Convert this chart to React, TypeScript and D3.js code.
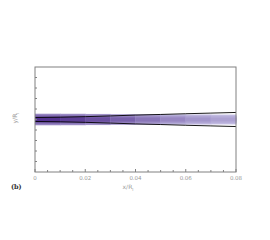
import * as d3 from 'd3';
import React from 'react';

// beam envelope (half width in y/R_l) sampled along x/R_l
const xSamples = [0, 0.01, 0.02, 0.03, 0.04, 0.05, 0.06, 0.07, 0.08];
const envelope = [0.19, 0.22, 0.27, 0.34, 0.42, 0.48, 0.55, 0.61, 0.67];
// density of the beam core (1 = dark, 0 = faint) and its spread
const density = [1.0, 0.95, 0.85, 0.75, 0.62, 0.5, 0.4, 0.32, 0.25];
const spread = [0.55, 0.55, 0.54, 0.52, 0.5, 0.5, 0.48, 0.47, 0.46];
const xTicks = [0, 0.02, 0.04, 0.06, 0.08];

const params = {
  left: 35,
  right: 236,
  top: 67,
  bottom: 172,
};

export default function App() {
  const x = d3.scaleLinear().domain([0, 0.08]).range([params.left, params.right]);
  const y = d3.scaleLinear().domain([-5, 5]).range([params.bottom, params.top]);
  const color = d3.interpolateRgb('#d2d0ee', '#4a2688');

  const minor = d3.range(0, 0.0801, 0.005);
  const yMinor = d3.range(-4, 5, 1);

  const segments = xSamples.slice(0, -1).map((xv, i) => {
    const x0 = x(xv);
    const x1 = x(xSamples[i + 1]);
    const d = (density[i] + density[i + 1]) / 2;
    const s = (spread[i] + spread[i + 1]) / 2;
    const layers = [
      { w: s, c: color(d * 0.45) },
      { w: s * 0.7, c: color(d * 0.7) },
      { w: s * 0.4, c: color(d * 0.95) },
    ];
    return (
      <g key={i}>
        {layers.map((l, j) => (
          <rect key={j} x={x0} width={x1 - x0 + 0.5} y={y(l.w)} height={y(-l.w) - y(l.w)} fill={l.c} />
        ))}
      </g>
    );
  });

  const upper = d3.line<number>().x((_, i) => x(xSamples[i])).y((v) => y(v)).curve(d3.curveMonotoneX);
  const lower = d3.line<number>().x((_, i) => x(xSamples[i])).y((v) => y(-v)).curve(d3.curveMonotoneX);

  const font = { fontFamily: 'DejaVu Sans', fill: '#999' };

  return (
    <svg width={270} height={240} style={{ position: 'absolute', left: 0, top: 0 }}>
      <rect width={270} height={240} fill="#fff" />
      {segments}
      <path d={upper(envelope) || ''} fill="none" stroke="#000" strokeWidth={0.9} />
      <path d={lower(envelope) || ''} fill="none" stroke="#000" strokeWidth={0.9} />
      <rect x={params.left} y={params.top} width={params.right - params.left} height={params.bottom - params.top}
        fill="none" stroke="#808080" strokeWidth={1} />
      {minor.map((t) => (
        <line key={t} x1={x(t)} x2={x(t)} y1={params.bottom} y2={params.bottom - (Math.round(t * 1000) % 20 === 0 ? 3 : 2)} stroke="#808080" />
      ))}
      {yMinor.map((t) => (
        <line key={t} x1={params.left} x2={params.left + 2} y1={y(t)} y2={y(t)} stroke="#808080" />
      ))}
      {xTicks.map((t) => (
        <text key={t} x={x(t)} y={179.5} textAnchor="middle" fontSize={5.5} {...font}>{t === 0 ? '0' : t.toFixed(2)}</text>
      ))}
      <text x={128} y={189} textAnchor="middle" fontSize={6} {...font}>x/R<tspan fontSize={4} dy={1.5}>l</tspan></text>
      <text transform="translate(17,118) rotate(-90)" textAnchor="middle" fontSize={6} {...font}>y/R<tspan fontSize={4} dy={1.5}>l</tspan></text>
      <text x={11} y={189} fontSize={6.5} fontWeight="bold" fontFamily="DejaVu Serif" fill="#333">(b)</text>
    </svg>
  );
}
